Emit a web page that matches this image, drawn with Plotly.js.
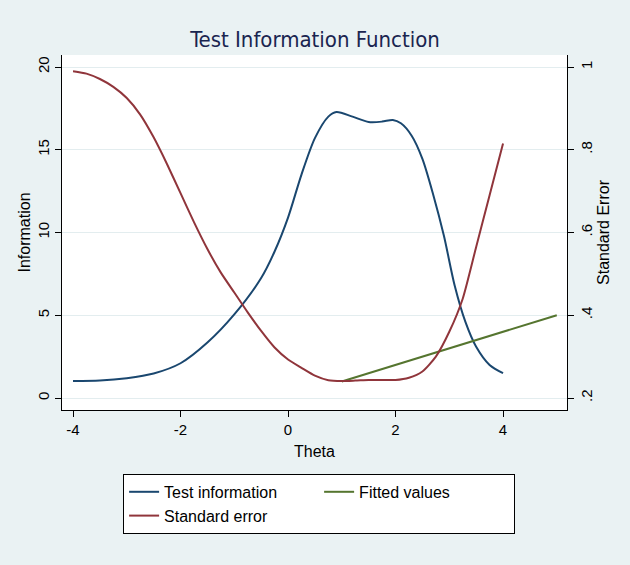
<!DOCTYPE html>
<html>
<head>
<meta charset="utf-8">
<script src="https://cdn.plot.ly/plotly-3.0.1.min.js"></script>
<style>html,body{margin:0;padding:0;background:#eaf2f3;}#chart{width:630px;height:565px;}</style>
</head>
<body>
<div id="chart"></div>
<script>
// Test information (left axis)
var infoTheta = [-4,-3.5,-3,-2.5,-2,-1.5,-1,-0.5,-0.25,0,0.25,0.5,0.75,0.9,1.2,1.5,1.75,1.95,2.1,2.3,2.5,2.7,2.9,3.1,3.3,3.5,3.75,4];
var infoValues = [1.03,1.06,1.2,1.48,2.1,3.35,5.05,7.25,8.85,10.9,13.5,15.7,17.0,17.28,17.0,16.68,16.7,16.8,16.6,15.85,14.45,12.3,9.8,6.8,4.6,3.1,2.0,1.5];
// Standard error (right axis)
var seTheta = [-4,-3.75,-3.5,-3.25,-3,-2.75,-2.5,-2.25,-2,-1.75,-1.5,-1.25,-1,-0.75,-0.5,-0.25,0,0.25,0.5,0.75,1,1.25,1.5,1.75,2,2.25,2.5,2.75,3,3.25,3.5,3.75,4];
var seValues = [0.99,0.984,0.971,0.952,0.925,0.885,0.83,0.765,0.695,0.625,0.56,0.503,0.455,0.407,0.362,0.322,0.293,0.273,0.254,0.243,0.241,0.242,0.2435,0.2435,0.2435,0.249,0.264,0.3,0.36,0.44,0.565,0.69,0.815];
// Fitted values (right axis)
var fitTheta = [1,2,3,4,5];
var fitValues = [0.24,0.28,0.32,0.36,0.40];

var leftTicks = [0,5,10,15,20];
var rightTicks = [0.2,0.4,0.6,0.8,1];
var rightTickText = ['.2','.4','.6','.8','1'];
var xTicks = [-4,-2,0,2,4];

var font = 'Liberation Sans, Arial, sans-serif';
var traces = [
  {x: infoTheta, y: infoValues, type:'scatter', mode:'lines', name:'Test information',
   line:{color:'#1a476f', width:2, shape:'spline', smoothing:0.8}, yaxis:'y'},
  {x: fitTheta, y: fitValues, type:'scatter', mode:'lines', name:'Fitted values',
   line:{color:'#55752f', width:2}, yaxis:'y2'},
  {x: seTheta, y: seValues, type:'scatter', mode:'lines', name:'Standard error',
   line:{color:'#90353b', width:2, shape:'spline', smoothing:0.6}, yaxis:'y2'}
];
var layout = {
  width:630, height:565,
  paper_bgcolor:'#eaf2f3', plot_bgcolor:'#ffffff',
  margin:{l:62, r:63, t:55, b:155},
  font:{family:font, color:'#000', size:15},
  title:{text:'Test Information Function', x:0.5, xanchor:'center', y:0.93, yanchor:'middle',
         font:{family:'Liberation Sans Narrow, DejaVu Sans Condensed, Liberation Sans, Arial', size:22, color:'#1a2550'}},
  xaxis:{range:[-4.205,5.19], tickvals:xTicks, ticktext:xTicks.map(String), ticks:'outside', ticklen:6,
         tickcolor:'#000', showline:true, linecolor:'#000', linewidth:1, showgrid:false, zeroline:false,
         title:{text:'Theta', font:{size:16}, standoff:8}, tickfont:{size:15}},
  yaxis:{range:[-0.725,20.725], tickvals:leftTicks, ticktext:leftTicks.map(String), tickangle:-90,
         ticks:'outside', ticklen:6, tickcolor:'#000', showline:true, linecolor:'#000', linewidth:1,
         showgrid:true, gridcolor:'#e3edef', gridwidth:1, zeroline:false,
         title:{text:'Information', font:{size:16}, standoff:0}, tickfont:{size:15}},
  yaxis2:{range:[0.171,1.029], overlaying:'y', side:'right', tickvals:rightTicks, ticktext:rightTickText,
          tickangle:-90, ticks:'outside', ticklen:6, tickcolor:'#000', showline:true, linecolor:'#000',
          linewidth:1, showgrid:false, zeroline:false,
          title:{text:'Standard Error', font:{size:16}, standoff:0}, tickfont:{size:15}},
  showlegend:true,
  legend:{orientation:'h', x:0.121, xanchor:'left', y:-0.18, yanchor:'top',
          bgcolor:'#ffffff', bordercolor:'#000', borderwidth:1,
          entrywidth:150, entrywidthmode:'pixels', traceorder:'normal',
          font:{size:16}}
};
Plotly.newPlot('chart', traces, layout, {displayModeBar:false, staticPlot:true});
</script>
</body>
</html>
